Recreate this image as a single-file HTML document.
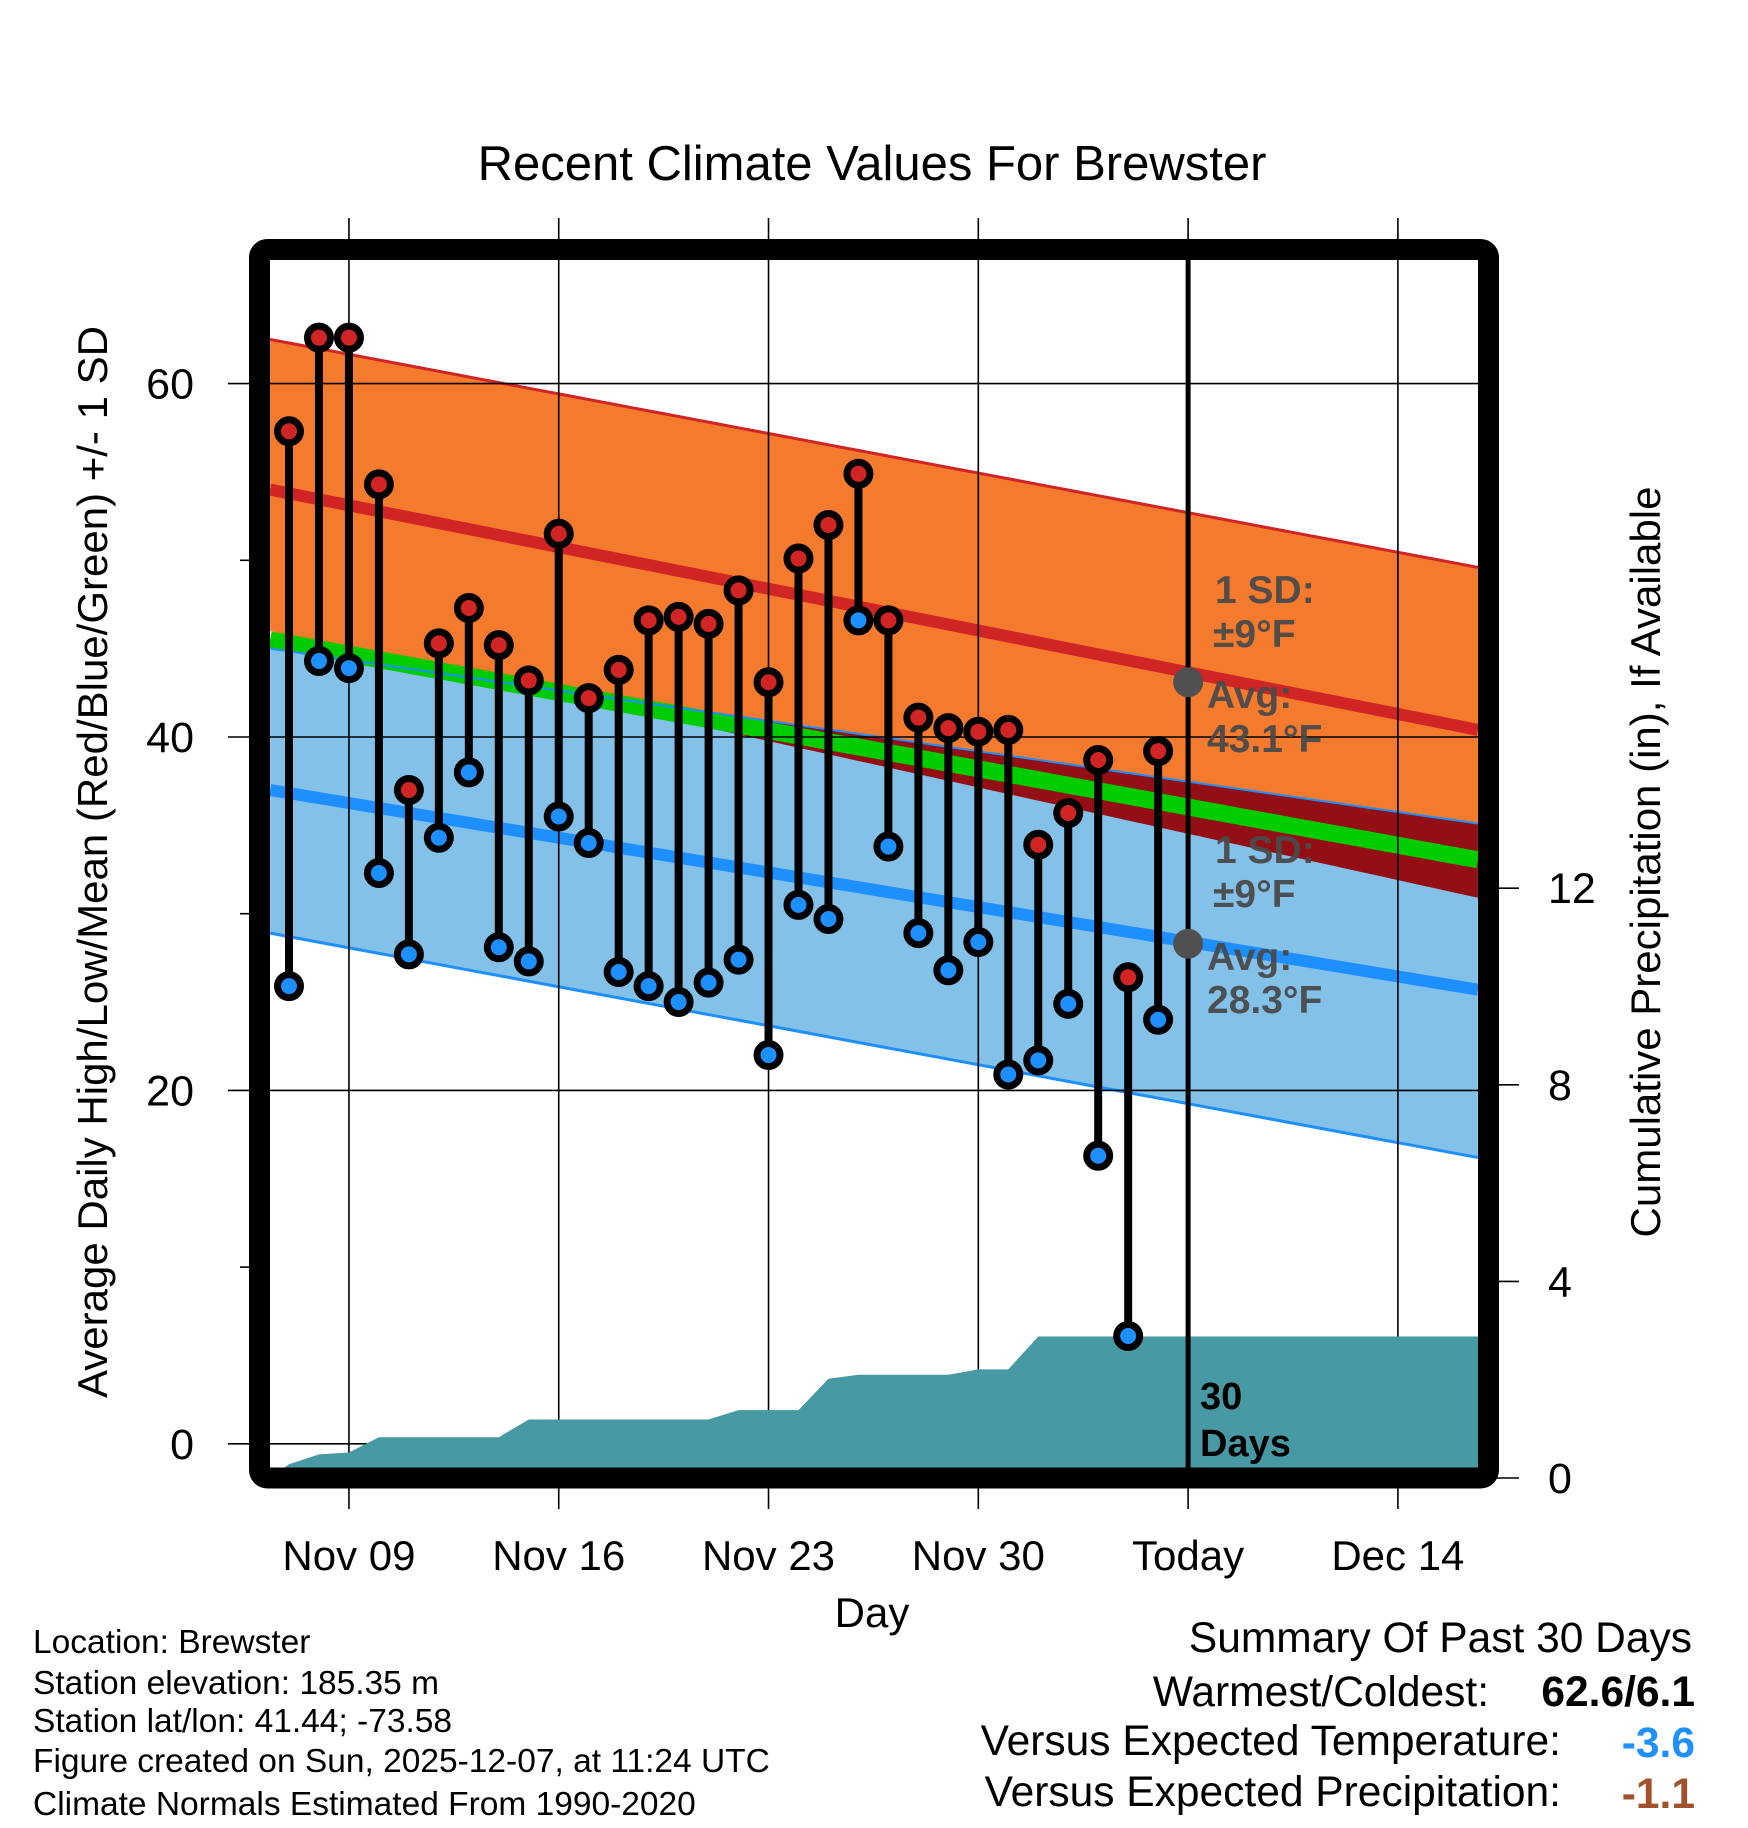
<!DOCTYPE html>
<html><head><meta charset="utf-8"><style>
html,body{margin:0;padding:0;background:#fff;}
svg{display:block;font-family:"Liberation Sans",sans-serif;}
</style></head><body>
<svg id="chart" width="1748" height="1828" viewBox="0 0 1748 1828" xmlns="http://www.w3.org/2000/svg">
<defs><clipPath id="plotclip"><rect x="270" y="260" width="1208" height="1208"/></clipPath></defs>
<text x="872" y="180" font-size="49" text-anchor="middle">Recent Climate Values For Brewster</text>
<g id="bands" clip-path="url(#plotclip)"></g>
<g id="grid"></g>
<g id="precip" clip-path="url(#plotclip)"></g>
<g id="today"></g>
<g id="marks"></g>
<rect x="259.5" y="249.5" width="1229" height="1228.5" rx="8" fill="none" stroke="#000" stroke-width="21"/>
<g id="axes"></g>
<g font-weight="bold" font-size="39" fill="#4a4a4a" fill-opacity="0.95">
<text x="1215" y="603">1 SD:</text><text x="1213" y="647">±9°F</text>
<text x="1207" y="708">Avg:</text><text x="1207" y="752">43.1°F</text>
<text x="1215" y="863">1 SD:</text><text x="1213" y="907">±9°F</text>
<text x="1207" y="970">Avg:</text><text x="1207" y="1013">28.3°F</text>
</g>
<g font-weight="bold" font-size="38" fill="#000">
<text x="1200" y="1409">30</text><text x="1200" y="1456">Days</text>
</g>
<text x="872" y="1627" font-size="42" text-anchor="middle">Day</text>
<text transform="translate(107,862) rotate(-90)" font-size="42" text-anchor="middle">Average Daily High/Low/Mean (Red/Blue/Green) +/- 1 SD</text>
<text transform="translate(1660,862) rotate(-90)" font-size="42" text-anchor="middle">Cumulative Precipitation (in), If Available</text>
<g font-size="33.5">
<text x="33" y="1653">Location: Brewster</text>
<text x="33" y="1694">Station elevation: 185.35 m</text>
<text x="33" y="1732">Station lat/lon: 41.44; -73.58</text>
<text x="33" y="1772">Figure created on Sun, 2025-12-07, at 11:24 UTC</text>
<text x="33" y="1815">Climate Normals Estimated From 1990-2020</text>
</g>
<g font-size="42.5" text-anchor="end">
<text x="1692" y="1652">Summary Of Past 30 Days</text>
<text x="1489" y="1706">Warmest/Coldest:</text>
<text x="1695" y="1706" font-weight="bold">62.6/6.1</text>
<text x="1561" y="1755">Versus Expected Temperature:</text>
<text x="1695" y="1757" font-weight="bold" fill="#1e90ff">-3.6</text>
<text x="1561" y="1806">Versus Expected Precipitation:</text>
<text x="1695" y="1808" font-weight="bold" fill="#a0522d">-1.1</text>
</g>
</svg>
<script>
const highs = [57.3,62.6,62.6,54.3,37.0,45.3,47.3,45.2,43.2,51.5,42.2,43.8,46.6,46.8,46.4,48.3,43.1,50.1,52.0,54.9,46.6,41.1,40.5,40.3,40.4,33.9,35.7,38.7,26.4,39.2];
const lows = [25.9,44.3,43.9,32.3,27.7,34.3,38.0,28.1,27.3,35.5,34.0,26.7,25.9,25.0,26.1,27.4,22.0,30.5,29.7,46.6,33.8,28.9,26.8,28.4,20.9,21.7,24.9,16.3,6.1,24.0];
const precipCum = [0.28,0.48,0.52,0.83,0.83,0.83,0.83,0.83,1.19,1.19,1.19,1.19,1.19,1.19,1.19,1.38,1.38,1.38,2.02,2.10,2.10,2.10,2.10,2.21,2.21,2.88,2.88,2.88,2.88,2.88];
const normalDays = [-0.63,39.67];
const hiUpper = [62.5,49.6];
const hiAvg = [54.0,40.4];
const hiLower = [46.0,30.9];
const loUpper = [45.0,35.1];
const loAvg = [37.0,25.7];
const loLower = [28.9,16.2];
const todayDay = 30;
const todayHigh = 43.1, todayLow = 28.3;
const dateTicks = [2,9,16,23,30,37];
const dateLabels = ["Nov 09","Nov 16","Nov 23","Nov 30","Today","Dec 14"];
const tempTicks = [0,20,40,60];
const tempMinor = [10,30,50];
const precipTicks = [0,4,8,12];

const xS = d => 289 + 29.97*d;
const yT = t => 1443.8 - 17.67*t;
const yP = p => 1478 - 49.15*p;
const NS = "http://www.w3.org/2000/svg";
function mk(tag, attrs, parent){const e=document.createElementNS(NS,tag);for(const k in attrs)e.setAttribute(k,attrs[k]);parent.appendChild(e);return e;}
const lerp=(a,t)=>a[0]+(a[1]-a[0])*t;
const bands=document.getElementById('bands');
const N=60;
function pts(arr){const r=[];for(let i=0;i<=N;i++){const t=i/N;const d=lerp(normalDays,t);r.push([xS(d),yT(lerp(arr,t))]);}return r;}
function bandPoly(up,lo,fill,name){
  const a=pts(up), b=pts(lo).reverse();
  const p=mk('polygon',{points:a.concat(b).map(q=>q.join(',')).join(' '),fill:fill},bands);
  
  
}
bandPoly(hiUpper,hiLower,'#f47a2e','high-sd-band');
bandPoly(loUpper,loLower,'#84c1e8','low-sd-band');
{const top=[],bot=[];for(let i=0;i<=N;i++){const t=i/N;const d=lerp(normalDays,t);const u=lerp(loUpper,t),l=lerp(hiLower,t);top.push([xS(d),yT(u)]);bot.push([xS(d),yT(Math.min(u,l))]);}
 const p=mk('polygon',{points:top.concat(bot.reverse()).map(q=>q.join(',')).join(' '),fill:'#940f15'},bands);
 
 }
function line(arr,color,w,name){
  const p=mk('polyline',{points:pts(arr).map(q=>q.join(',')).join(' '),fill:'none',stroke:color,'stroke-width':w},bands);
  
  
}
const meanArr=[(hiAvg[0]+loAvg[0])/2,(hiAvg[1]+loAvg[1])/2];
line(meanArr,'#00cc00',17,'mean-line');
line(hiAvg,'#d12424',12,'high-avg-line');
line(loAvg,'#1e8fff',12,'low-avg-line');
line(hiUpper,'#d12424',3,'high-upper-line');
line(loLower,'#1e8fff',3,'low-lower-line');
line(loUpper,'#1e8fff',2,'low-upper-line');

const grid=document.getElementById('grid');
dateTicks.forEach(d=>{const l=mk('line',{x1:xS(d),x2:xS(d),y1:218,y2:1509,stroke:'#000','stroke-width':1.6},grid);
 
 });
tempTicks.forEach(t=>{const l=mk('line',{x1:228,x2:1478,y1:yT(t),y2:yT(t),stroke:'#000','stroke-width':1.6},grid);
 
 });

const pg=document.getElementById('precip');
{let s='M'+xS(normalDays[0])+','+yP(0);
 precipCum.forEach((v,i)=>{s+=' L'+xS(i)+','+yP(v);});
 s+=' L'+xS(normalDays[1]+1)+','+yP(precipCum[precipCum.length-1])+' L'+xS(normalDays[1]+1)+','+yP(0)+' Z';
 const p=mk('path',{d:s,fill:'#4799a3'},pg);
 
 }

const tg=document.getElementById('today');
{const l=mk('line',{x1:xS(todayDay),x2:xS(todayDay),y1:260,y2:1468,stroke:'#000','stroke-width':5},tg);
 
 
 [todayHigh,todayLow].forEach(v=>{const c=mk('circle',{cx:xS(todayDay),cy:yT(v),r:15,fill:'#505050'},tg);
  
  });}

const mg=document.getElementById('marks');
highs.forEach((h,i)=>{
  const x=xS(i);
  const s=mk('line',{x1:x,x2:x,y1:yT(h),y2:yT(lows[i]),stroke:'#000','stroke-width':8},mg);
  
  
});
highs.forEach((h,i)=>{
  const x=xS(i);
  const a=mk('circle',{cx:x,cy:yT(h),r:11.5,fill:'#d12424',stroke:'#000','stroke-width':7},mg);
  
  
  const b=mk('circle',{cx:x,cy:yT(lows[i]),r:11.5,fill:'#1e8fff',stroke:'#000','stroke-width':7},mg);
  
  
});

const ax=document.getElementById('axes');
tempTicks.forEach(t=>{const e=mk('text',{x:194,y:yT(t)+15,'font-size':43,'text-anchor':'end'},ax);e.textContent=t;
 
 });
tempMinor.forEach(t=>{const l=mk('line',{x1:240,x2:250,y1:yT(t),y2:yT(t),stroke:'#000','stroke-width':1.6},ax);
 
 });
precipTicks.forEach(p=>{const l=mk('line',{x1:1490,x2:1519,y1:yP(p),y2:yP(p),stroke:'#000','stroke-width':1.6},ax);
 
 
 const e=mk('text',{x:1548,y:yP(p)+15,'font-size':43},ax);e.textContent=p;
 
 });
dateTicks.forEach((d,i)=>{const e=mk('text',{x:xS(d),y:1570,'font-size':42,'text-anchor':'middle'},ax);e.textContent=dateLabels[i];
 
 });
</script>
</body></html>
